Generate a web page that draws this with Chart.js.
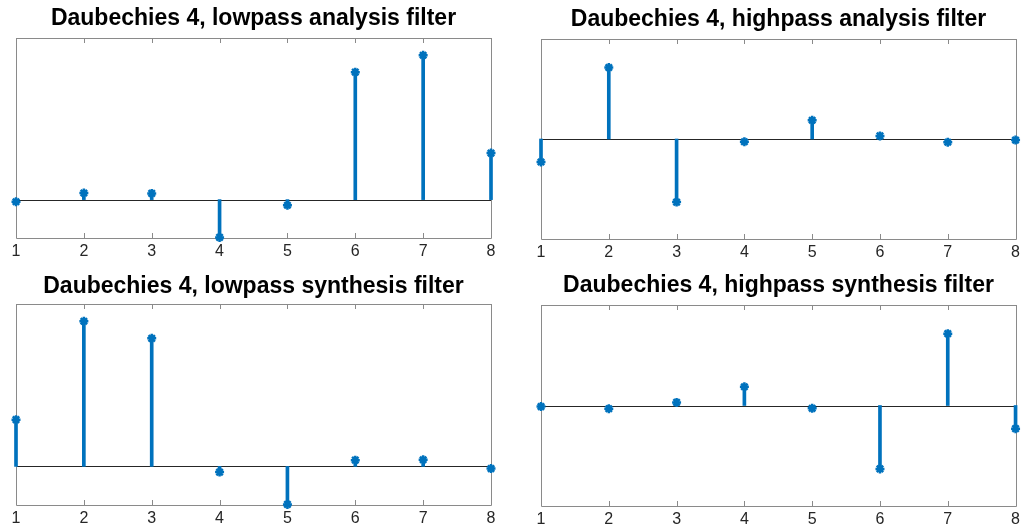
<!DOCTYPE html>
<html>
<head>
<meta charset="utf-8">
<script src="https://cdn.jsdelivr.net/npm/chart.js@4.4.1/dist/chart.umd.min.js"></script>
<style>
  html, body { margin: 0; padding: 0; background: #fff; }
  #wrap { position: relative; width: 1024px; height: 528px; overflow: hidden; }
  .panel { position: absolute; width: 512px; height: 264px; }
</style>
</head>
<body>
<div id="wrap">
  <div class="panel" style="left:0;top:0"><canvas id="c1"></canvas></div>
  <div class="panel" style="left:512px;top:0"><canvas id="c2"></canvas></div>
  <div class="panel" style="left:0;top:264px"><canvas id="c3"></canvas></div>
  <div class="panel" style="left:512px;top:264px"><canvas id="c4"></canvas></div>
</div>
<script>
// Filter tap indices
const taps = [1, 2, 3, 4, 5, 6, 7, 8];

// Daubechies 4 filter coefficients
const lowpassAnalysis   = [-0.0106, 0.0329, 0.0308, -0.1870, -0.0280, 0.6309, 0.7148, 0.2304];
const highpassAnalysis  = [-0.2304, 0.7148, -0.6309, -0.0280, 0.1870, 0.0308, -0.0329, -0.0106];
const lowpassSynthesis  = [0.2304, 0.7148, 0.6309, -0.0280, -0.1870, 0.0308, 0.0329, -0.0106];
const highpassSynthesis = [-0.0106, -0.0329, 0.0308, 0.1870, -0.0280, -0.6309, 0.7148, -0.2304];

// Panel titles
const titles = [
  'Daubechies 4, lowpass analysis filter',
  'Daubechies 4, highpass analysis filter',
  'Daubechies 4, lowpass synthesis filter',
  'Daubechies 4, highpass synthesis filter'
];

// Vertical ranges
const lowpassRange = [-0.19, 0.8];
const highpassRange = [-1, 1];

const STEM = '#0072BD';
const W = 512, H = 264;
const TITLE_SIZE = 23;
const TITLE_LINE = TITLE_SIZE * 1.2;

// Frame, inward tick marks and zero baseline
const framePlugin = {
  id: 'frame',
  beforeDatasetsDraw(chart) {
    const { ctx, chartArea: a, scales } = chart;
    ctx.save();
    // zero baseline
    const y0 = Math.round(scales.y.getPixelForValue(0)) + 0.5;
    ctx.strokeStyle = '#262626';
    ctx.lineWidth = 1;
    ctx.beginPath();
    ctx.moveTo(a.left, y0);
    ctx.lineTo(a.right, y0);
    ctx.stroke();
    // box
    ctx.strokeStyle = '#8a8a8a';
    ctx.beginPath();
    ctx.rect(Math.round(a.left) + 0.5, Math.round(a.top) + 0.5,
             Math.round(a.right - a.left), Math.round(a.bottom - a.top));
    ctx.stroke();
    // inward ticks on top and bottom edges
    scales.x.ticks.forEach(t => {
      const x = Math.round(scales.x.getPixelForValue(t.value)) + 0.5;
      ctx.beginPath();
      ctx.moveTo(x, Math.round(a.top));
      ctx.lineTo(x, Math.round(a.top) + 5);
      ctx.moveTo(x, Math.round(a.bottom));
      ctx.lineTo(x, Math.round(a.bottom) - 5);
      ctx.stroke();
    });
    ctx.restore();
  }
};

function makePanel(id, title, values, range, geo) {
  const pts = taps.map((x, i) => ({ x: x, y: values[i] }));
  const titleTop = geo.titleMid - TITLE_LINE / 2;
  new Chart(document.getElementById(id), {
    type: 'bar',
    data: {
      datasets: [
        {
          type: 'bar',
          data: pts,
          backgroundColor: STEM,
          borderWidth: 0,
          barThickness: 3,
          clip: false
        },
        {
          type: 'scatter',
          data: pts,
          pointStyle: 'star',
          pointRadius: 4.5,
          pointBorderWidth: 2.5,
          borderColor: STEM,
          backgroundColor: STEM,
          clip: false
        }
      ]
    },
    options: {
      responsive: true,
      maintainAspectRatio: false,
      animation: false,
      events: [],
      layout: { padding: { left: geo.left, right: W - geo.right, top: 0, bottom: 0 } },
      plugins: {
        legend: { display: false },
        tooltip: { enabled: false },
        title: {
          display: true,
          text: title,
          color: '#000',
          font: { family: 'Liberation Sans', size: TITLE_SIZE, weight: 'bold', lineHeight: 1.2 },
          padding: { top: titleTop, bottom: geo.top - titleTop - TITLE_LINE }
        }
      },
      scales: {
        x: {
          type: 'linear',
          position: 'bottom',
          min: 1,
          max: 8,
          offset: false,
          grid: { display: false, drawTicks: false },
          border: { display: false },
          ticks: {
            stepSize: 1,
            padding: 4,
            color: '#262626',
            font: { family: 'Liberation Sans', size: 16 }
          },
          afterFit(s) { s.height = H - geo.bottom; }
        },
        y: {
          display: false,
          min: range[0],
          max: range[1]
        }
      }
    },
    plugins: [framePlugin]
  });
}

makePanel('c1', titles[0], lowpassAnalysis, lowpassRange,
  { left: 16, right: 491, top: 38, bottom: 238, titleMid: 19 });
makePanel('c2', titles[1], highpassAnalysis, highpassRange,
  { left: 29, right: 504, top: 39, bottom: 239, titleMid: 20 });
makePanel('c3', titles[2], lowpassSynthesis, lowpassRange,
  { left: 16, right: 491, top: 40, bottom: 241, titleMid: 23 });
makePanel('c4', titles[3], highpassSynthesis, highpassRange,
  { left: 29, right: 504, top: 41, bottom: 242, titleMid: 22 });
</script>
</body>
</html>
